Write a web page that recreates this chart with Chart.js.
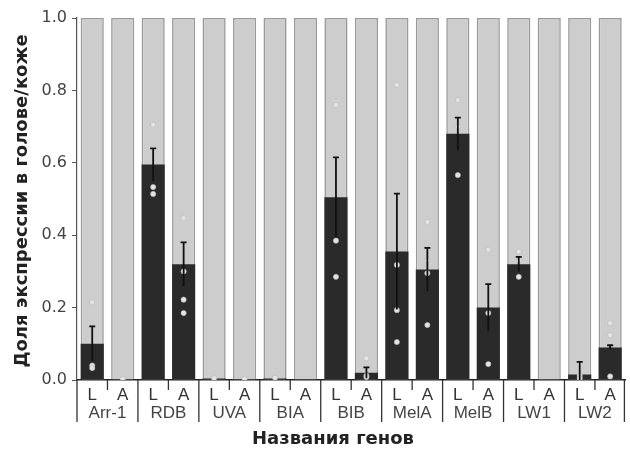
<!DOCTYPE html>
<html>
<head>
<meta charset="utf-8">
<script src="https://cdn.jsdelivr.net/npm/chart.js@4.4.1/dist/chart.umd.min.js"></script>
<style>
html,body{margin:0;padding:0;background:#fff;}
#wrap{width:630px;height:450px;position:relative;}
</style>
</head>
<body>
<div id="wrap"><canvas id="c" width="630" height="450"></canvas></div>
<script>
// ---- data ----
const genes = ['Arr-1','RDB','UVA','BIA','BIB','MelA','MelB','LW1','LW2'];
const stages = ['L','A'];
const meanL = [0.100, 0.595, 0.004, 0.004, 0.505, 0.355, 0.680, 0.320, 0.015];
const meanA = [0.002, 0.320, 0.002, 0.001, 0.020, 0.305, 0.200, 0.000, 0.090];
const errL  = [0.048, 0.045, 0.000, 0.000, 0.110, 0.160, 0.045, 0.020, 0.035];
const errA  = [0.000, 0.060, 0.000, 0.000, 0.015, 0.060, 0.065, 0.000, 0.006];
const ptsL = [[0.215,0.040,0.033],[0.705,0.640,0.533,0.514],[0.005],[0.006],[0.760,0.385,0.285],[0.815,0.318,0.193,0.105],[0.773,0.700,0.566],[0.355,0.330,0.285],[0.045,0.012,0.005]];
const ptsA = [[0.003],[0.447,0.300,0.222,0.185],[0.003],[],[0.060,0.012,0.008],[0.437,0.330,0.295,0.152],[0.360,0.185,0.044],[],[0.157,0.124,0.010]];
const yTicks = [0.0,0.2,0.4,0.6,0.8,1.0];
const yTitle = 'Доля экспрессии в голове/коже';
const xTitle = 'Названия генов';

// ---- derived ----
const labels = [], means = [], errs = [], full = [], points = [];
genes.forEach((g,i)=>{
  stages.forEach((s)=>{
    const lab = g + ' ' + s;
    labels.push(lab);
    means.push(s==='L'?meanL[i]:meanA[i]);
    errs.push(s==='L'?errL[i]:errA[i]);
    full.push(1);
    (s==='L'?ptsL[i]:ptsA[i]).forEach(v=>points.push({x:lab,y:v}));
  });
});

const FONT = '"Liberation Sans", Arial, sans-serif';
const TFONT = '"DejaVu Sans", sans-serif';

const decor = {
  id:'decor',
  afterDatasetsDraw(chart){
    const ctx = chart.ctx, x = chart.scales.x, y = chart.scales.y;
    ctx.save();
    ctx.strokeStyle = '#111'; ctx.lineWidth = 1.8;
    means.forEach((m,i)=>{
      const e = errs[i]; if(!e) return;
      const px = x.getPixelForValue(i);
      const t = y.getPixelForValue(m+e), b = y.getPixelForValue(Math.max(0,m-e));
      ctx.beginPath(); ctx.moveTo(px,t); ctx.lineTo(px,b);
      ctx.moveTo(px-3,t); ctx.lineTo(px+3,t);
      ctx.stroke();
    });
    ctx.restore();
  },
  afterDraw(chart){
    const ctx = chart.ctx, x = chart.scales.x, area = chart.chartArea;
    const step = x.getPixelForValue(1) - x.getPixelForValue(0);
    ctx.save();
    ctx.strokeStyle = '#333'; ctx.lineWidth = 1.3;
    for(let g=0; g<=genes.length; g++){
      const px = g===0 ? area.left : (g===genes.length ? area.right-1 : x.getPixelForValue(g*2) - step/2);
      ctx.beginPath(); ctx.moveTo(px, area.bottom); ctx.lineTo(px, area.bottom+42); ctx.stroke();
    }
    for(let g=0; g<genes.length; g++){
      const px = x.getPixelForValue(g*2) + step/2;
      ctx.beginPath(); ctx.moveTo(px, area.bottom); ctx.lineTo(px, area.bottom+10); ctx.stroke();
    }
    ctx.fillStyle = '#444'; ctx.font = '17px ' + FONT;
    ctx.textAlign = 'center'; ctx.textBaseline = 'middle';
    genes.forEach((g,i)=>{
      const px = (x.getPixelForValue(i*2) + x.getPixelForValue(i*2+1))/2;
      ctx.fillText(g, px, area.bottom + 33);
    });
    // axis titles
    ctx.fillStyle = '#222'; ctx.font = 'bold 18px ' + TFONT;
    ctx.fillText(xTitle, 333, 439);
    ctx.translate(22, 201); ctx.rotate(-Math.PI/2);
    ctx.fillText(yTitle, 0, 0);
    ctx.restore();
  }
};

new Chart(document.getElementById('c'), {
  data: {
    labels: labels,
    datasets: [
      { type:'scatter', data: points, backgroundColor:'#e4e4e4', borderColor:'#b5b5b5', borderWidth:0.6, pointRadius:2.6, order:1 },
      { type:'bar', data: means, backgroundColor:'#2a2a2a', borderWidth:0, grouped:false, barPercentage:0.76, categoryPercentage:1, order:2 },
      { type:'bar', data: full, backgroundColor:'#cdcdcd', borderColor:'#9a9a9a', borderWidth:1.6, grouped:false, barPercentage:0.76, categoryPercentage:1, order:3 }
    ]
  },
  options: {
    responsive:false, animation:false,
    layout:{ padding:{ left:0, right:2, top:18, bottom:0 } },
    plugins:{ legend:{display:false}, tooltip:{enabled:false} },
    scales:{
      x:{
        type:'category', offset:true,
        grid:{ display:false, drawTicks:false },
        border:{ display:true, color:'#222', width:1.6 },
        ticks:{ padding:5, color:'#333', font:{ family:FONT, size:17 }, maxRotation:0, autoSkip:false,
          callback:function(v,i){ return labels[i].split(' ')[1]; } },
        title:{ display:false },
        afterFit(s){ s.height = 70; }
      },
      y:{
        min:0, max:1,
        afterBuildTicks(s){ s.ticks = yTicks.map(v=>({value:v})); },
        grid:{ display:true, drawOnChartArea:false, drawTicks:true, tickLength:5, color:'#555' },
        border:{ display:true, color:'#555', width:1.2 },
        ticks:{ color:'#444', padding:5, font:{ family:TFONT, size:16 }, callback:v=>Number(v).toFixed(1) },
        title:{ display:false },
        afterFit(s){ s.width = 77; }
      }
    }
  },
  plugins:[decor]
});
</script>
</body>
</html>
